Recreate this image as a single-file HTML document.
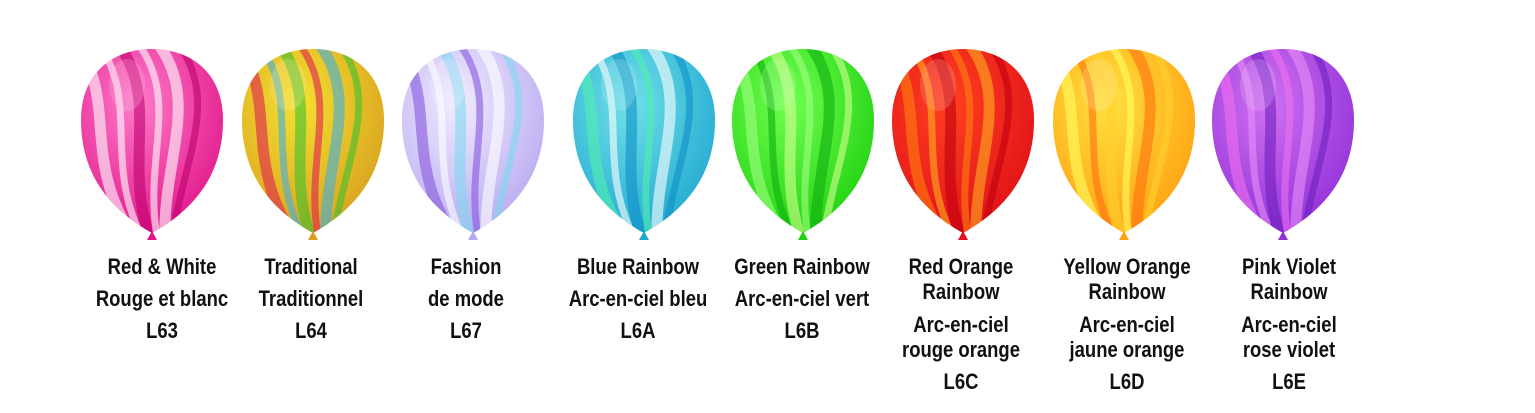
<!DOCTYPE html>
<html><head><meta charset="utf-8"><style>
html,body{margin:0;padding:0;background:#fff;}
svg{display:block;}
text{font-family:"Liberation Sans Narrow","Liberation Sans",sans-serif;font-weight:bold;font-size:22px;fill:#111;text-anchor:middle;}
</style></head><body>
<svg id="s" width="1535" height="413" viewBox="0 0 1535 413">
<defs></defs>
</svg>
<script>
const ballX=[152,313,473,644,803,963,1124,1283];
const labelX=[162,311,466,638,802,961,1127,1289];
const names=["red-white","traditional","fashion","blue-rainbow","green-rainbow","red-orange-rainbow","yellow-orange-rainbow","pink-violet-rainbow"];
const baseCol=[["#ff7ac8","#e0158a"],["#f4e030","#d8a020"],["#f0ecff","#b8a8f0"],["#70e0e8","#20a8d0"],["#70ff50","#20d010"],["#ff4020","#e01018"],["#ffe040","#ffa010"],["#d070f0","#9030d8"]];
const streaks=[["#ffffff","#ffffff","#c00070"],["#e02050","#40b0e0","#40c030"],["#8858e0","#ffffff","#80d8f0"],["#50f0b0","#ffffff","#1090c8"],["#a0ff80","#10b010","#d0ff90"],["#ff8010","#ffb020","#c00010"],["#ffff60","#ff7010","#ffd030"],["#f070f0","#e890f8","#7020c0"]];
const labels=[
 [["Red & White",274],["Rouge et blanc",306],["L63",338]],
 [["Traditional",274],["Traditionnel",306],["L64",338]],
 [["Fashion",274],["de mode",306],["L67",338]],
 [["Blue Rainbow",274],["Arc-en-ciel bleu",306],["L6A",338]],
 [["Green Rainbow",274],["Arc-en-ciel vert",306],["L6B",338]],
 [["Red Orange",274],["Rainbow",299],["Arc-en-ciel",332],["rouge orange",357],["L6C",389]],
 [["Yellow Orange",274],["Rainbow",299],["Arc-en-ciel",332],["jaune orange",357],["L6D",389]],
 [["Pink Violet",274],["Rainbow",299],["Arc-en-ciel",332],["rose violet",357],["L6E",389]]
];
const NS="http://www.w3.org/2000/svg";
const SX=0.84;
const svg=document.getElementById('s');
const defs=svg.querySelector('defs');
function mk(t,a){const e=document.createElementNS(NS,t);for(const k in a)e.setAttribute(k,a[k]);return e;}
ballX.forEach((cx,i)=>{
 const g=mk('g',{});
 
 
 const gr=mk('radialGradient',{id:'g'+i,cx:'40%',cy:'30%',r:'75%'});
 gr.appendChild(mk('stop',{offset:'0',"stop-color":baseCol[i][0]}));
 gr.appendChild(mk('stop',{offset:'1',"stop-color":baseCol[i][1]}));
 defs.appendChild(gr);
 const d=`M${cx},233 C${cx-45},208 ${cx-71},172 ${cx-71},120 C${cx-71},72 ${cx-38},49 ${cx},49 C${cx+38},49 ${cx+71},72 ${cx+71},120 C${cx+71},172 ${cx+45},208 ${cx},233 Z`;
 const cp=mk('clipPath',{id:'c'+i});cp.appendChild(mk('path',{d:d}));defs.appendChild(cp);
 g.appendChild(mk('path',{d:d,fill:'url(#g'+i+')'}));
 const sg=mk('g',{"clip-path":'url(#c'+i+')',opacity:'0.6'});
 const offs=[-50,-28,-8,12,32,52];
 offs.forEach((o,j)=>{
  const col=streaks[i][j%3];
  sg.appendChild(mk('path',{d:`M${cx+o-25},45 C${cx+o+15},100 ${cx+o-20},160 ${cx+o*0.4},235`,stroke:col,"stroke-width":j%2?7:11,fill:'none',"stroke-linecap":'round'}));
 });
 sg.appendChild(mk('ellipse',{cx:cx-25,cy:85,rx:18,ry:26,fill:'#fff',opacity:'0.25'}));
 g.appendChild(sg);
 g.appendChild(mk('path',{d:`M${cx-5},240 L${cx},231 L${cx+5},240 Z`,fill:baseCol[i][1]}));
 svg.appendChild(g);
 const tg=mk('g',{transform:`scale(${SX},1)`});
 
 
 labels[i].forEach(l=>{const t=mk('text',{x:labelX[i]/SX,y:l[1]});t.textContent=l[0];tg.appendChild(t);});
 svg.appendChild(tg);
});
</script>
</body></html>
